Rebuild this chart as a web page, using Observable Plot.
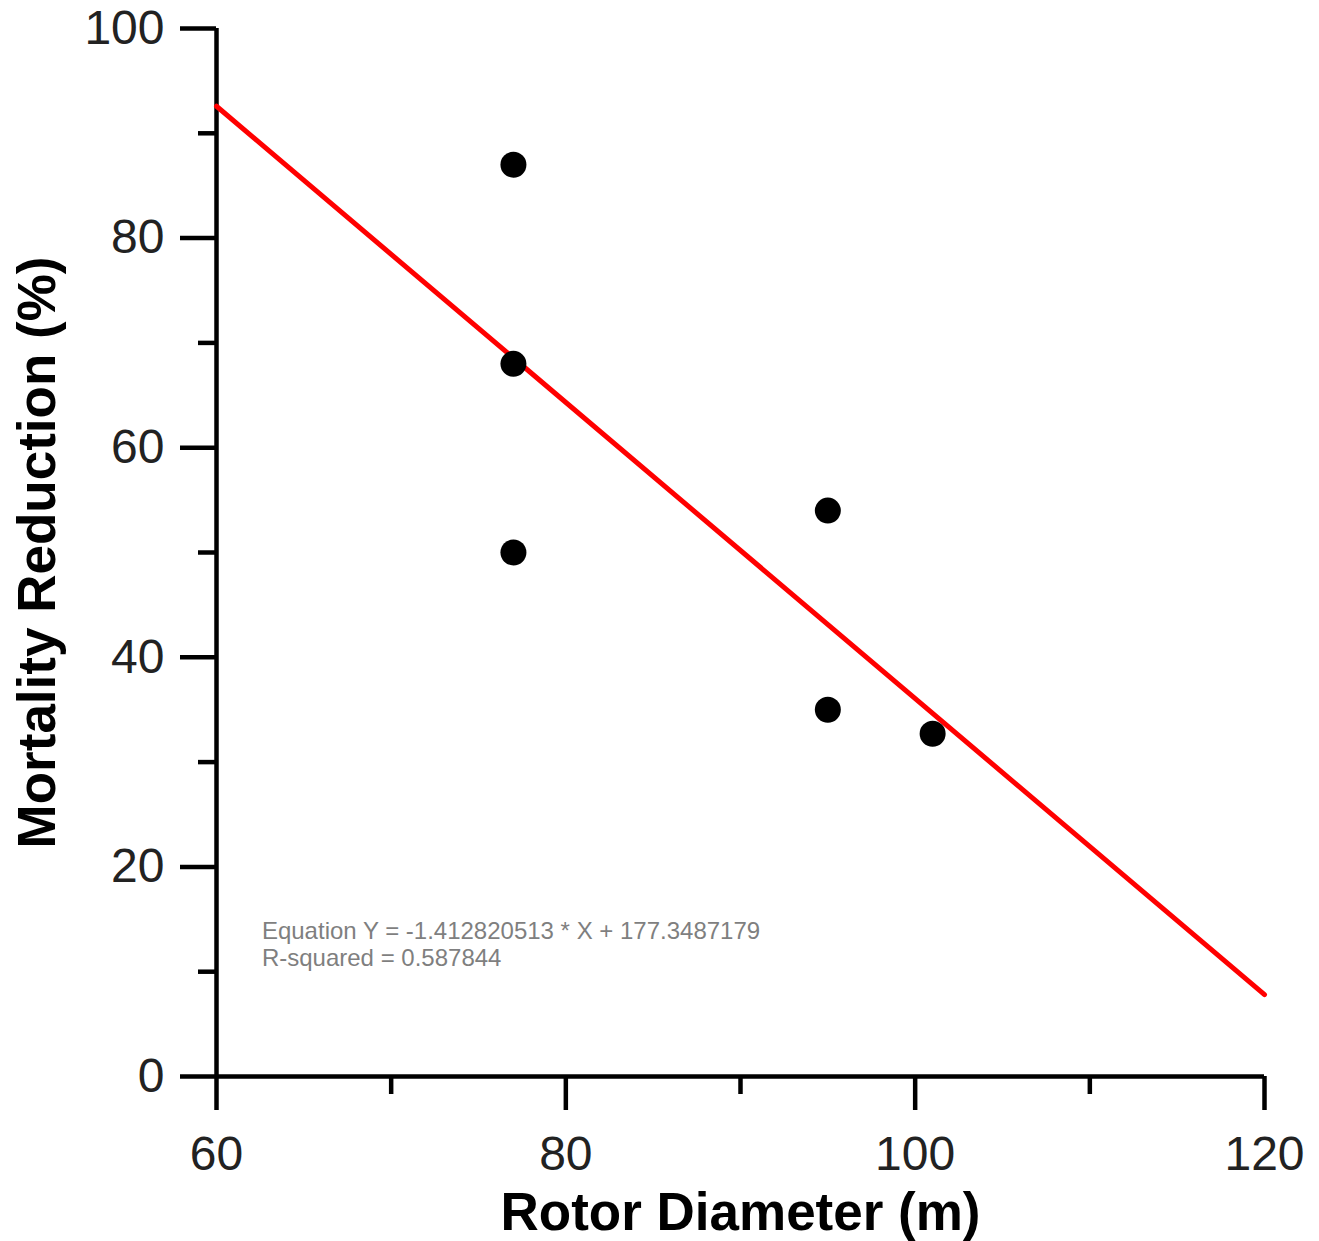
<!DOCTYPE html>
<html>
<head>
<meta charset="utf-8">
<script src="https://cdn.jsdelivr.net/npm/d3@7"></script>
<script src="https://cdn.jsdelivr.net/npm/@observablehq/plot@0.6"></script>
<style>
  html, body { margin: 0; padding: 0; background: #fff; }
  #chart svg { display: block; }
</style>
</head>
<body>
<div id="chart"></div>
<script>
// Observed data points
const rotorDiameter = [77, 77, 77, 95, 95, 101];
const mortalityReduction = [87, 68, 50, 54, 35, 32.7];

// Fitted regression (as printed on the chart)
const slope = -1.412820513;
const intercept = 177.3487179;
const fitRangeX = [60, 120];
const equationLines = [
  "Equation Y = -1.412820513 * X + 177.3487179",
  "R-squared = 0.587844"
];

// Tick labels
const xMajorTicks = [60, 80, 100, 120];
const xMinorTicks = [70, 90, 110];
const yMajorTicks = [0, 20, 40, 60, 80, 100];
const yMinorTicks = [10, 30, 50, 70, 90];

const points = rotorDiameter.map((d, i) => ({x: d, y: mortalityReduction[i]}));
const fitLine = fitRangeX.map(x => ({x, y: slope * x + intercept}));
const eqRows = equationLines.map((t, i) => ({t, y: 13.85 - i * 2.6}));

const font = "'Liberation Sans', Arial, sans-serif";

const chart = Plot.plot({
  width: 1319,
  height: 1241,
  marginLeft: 216,
  marginRight: 55,
  marginTop: 28,
  marginBottom: 165,
  style: {fontFamily: font, background: "#fff", color: "#000"},
  x: {domain: [60, 120]},
  y: {domain: [0, 100]},
  marks: [
    Plot.axisY({ticks: yMajorTicks, tickSize: 36, tickPadding: 16, fontSize: 48, strokeWidth: 4.5, label: null, stroke: "#000", fill: "#222"}),
    Plot.axisY({ticks: yMinorTicks, tickSize: 18, text: null, strokeWidth: 4.5, label: null, stroke: "#000"}),
    Plot.axisX({ticks: xMajorTicks, tickSize: 34, tickPadding: 25, fontSize: 48, strokeWidth: 4.5, label: null, stroke: "#000", fill: "#222"}),
    Plot.axisX({ticks: xMinorTicks, tickSize: 18, text: null, strokeWidth: 4.5, label: null, stroke: "#000"}),
    Plot.ruleX([60], {y1: 0, y2: 100, stroke: "#000", strokeWidth: 4.5}),
    Plot.ruleY([0], {x1: 60, x2: 120, stroke: "#000", strokeWidth: 4.5}),
    Plot.line(fitLine, {x: "x", y: "y", stroke: "#ff0000", strokeWidth: 5}),
    Plot.dot(points, {x: "x", y: "y", r: 13, fill: "#000", stroke: null}),
    Plot.text(eqRows, {
      x: () => 62.6, y: "y", text: "t",
      textAnchor: "start", fontSize: 24, fill: "#7f7f7f"
    }),
    Plot.text(["Rotor Diameter (m)"], {
      frameAnchor: "bottom", lineAnchor: "bottom", dy: 153, text: d => d,
      fontSize: 53, fontWeight: "bold", fill: "#000"
    }),
    Plot.text(["Mortality Reduction (%)"], {
      frameAnchor: "left", textAnchor: "middle", lineAnchor: "middle", dx: -178, rotate: -90, text: d => d,
      fontSize: 53, fontWeight: "bold", fill: "#000"
    })
  ]
});

document.getElementById("chart").appendChild(chart);
</script>
</body>
</html>
